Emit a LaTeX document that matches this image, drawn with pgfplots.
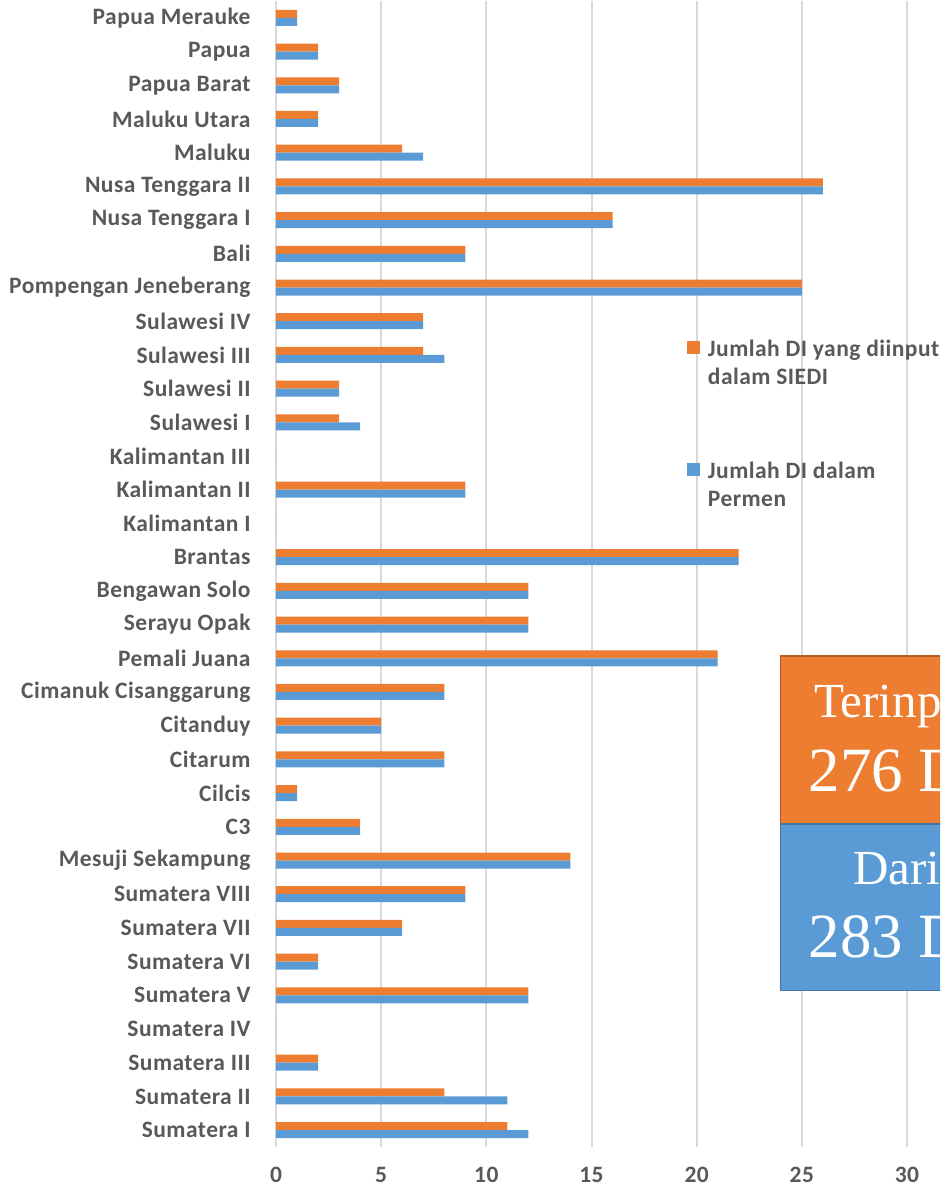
\documentclass[border=0pt]{standalone}
\usepackage{fontspec}
\setmainfont{Carlito}
\newfontfamily\lab[LetterSpace=2]{Carlito}
\newfontfamily\tnr{Liberation Serif}
\usepackage{pgfplots}
\pgfplotsset{compat=1.18}
\definecolor{orng}{HTML}{ED7D31}
\definecolor{blu}{HTML}{5B9BD5}
\definecolor{gridc}{HTML}{D9D9D9}
\definecolor{txt}{HTML}{595959}
\begin{document}
\begin{tikzpicture}[x=1pt,y=1pt]
\clip (0,0) rectangle (940,1189);
\begin{axis}[at={(276pt,42pt)}, anchor=south west, scale only axis,
  width=631pt, height=1146pt,
  xbar, bar width=8pt, xmin=0, xmax=30, ymin=-0.5, ymax=33.5,
  axis line style={draw=none}, tick style={draw=none},
  xtick={0,5,...,30}, xmajorgrids, grid style={gridc, line width=2pt},
  ytick={0,...,33},
  yticklabels={Sumatera I,Sumatera II,Sumatera III,Sumatera IV,Sumatera V,Sumatera VI,Sumatera VII,Sumatera VIII,Mesuji Sekampung,C3,Cilcis,Citarum,Citanduy,Cimanuk Cisanggarung,Pemali Juana,Serayu Opak,Bengawan Solo,Brantas,Kalimantan  I,Kalimantan  II,Kalimantan  III,Sulawesi I,Sulawesi II,Sulawesi III,Sulawesi IV,Pompengan Jeneberang,Bali,Nusa Tenggara I,Nusa Tenggara II,Maluku,Maluku  Utara,Papua Barat,Papua,Papua Merauke},
  ticklabel style={font=\lab\fontsize{23.5}{28}\selectfont\bfseries, text=txt, inner sep=0pt},
  /pgf/number format/assume math mode=true,
  yticklabel style={xshift=-21pt},
  xticklabel style={yshift=-20pt},
  legend style={at={(0.651,0.706)}, anchor=north west, draw=none, fill=none, inner sep=0pt,
    font=\lab\fontsize{23.5}{28}\selectfont\bfseries, text=txt, row sep=72pt,
    cells={anchor=west, align=left}},
  legend image code/.code={\fill[#1] (0pt,9pt) rectangle (13pt,22pt); \path (19pt,9pt);},
]
\addplot[fill=orng, draw=none, bar shift=4pt] coordinates {
(11,0) (8,1) (2,2) (0,3) (12,4) (2,5) (6,6) (9,7) (14,8) (4,9) (1,10) (8,11) (5,12) (8,13) (21,14) (12,15) (12,16) (22,17) (0,18) (9,19) (0,20) (3,21) (3,22) (7,23) (7,24) (25,25) (9,26) (16,27) (26,28) (6,29) (2,30) (3,31) (2,32) (1,33)};
\addlegendentry{Jumlah  DI yang diinput\\dalam SIEDI}
\addplot[fill=blu, draw=none, bar shift=-4pt] coordinates {
(12,0) (11,1) (2,2) (0,3) (12,4) (2,5) (6,6) (9,7) (14,8) (4,9) (1,10) (8,11) (5,12) (8,13) (21,14) (12,15) (12,16) (22,17) (0,18) (9,19) (0,20) (4,21) (3,22) (8,23) (7,24) (25,25) (9,26) (16,27) (26,28) (7,29) (2,30) (3,31) (2,32) (1,33)};
\addlegendentry{Jumlah  DI dalam\\Permen}
\end{axis}
% overlay text boxes
\filldraw[fill=orng, draw=orng!75!black, line width=1.5pt] (780.7,365) rectangle (1014,533);
\filldraw[fill=blu, draw=blu!75!black, line width=1.5pt] (780.7,198.3) rectangle (1014,365);
\node[anchor=base, text=white, inner sep=0pt, font=\tnr\fontsize{49}{50}\selectfont] at (897,471) {Terinput};
\node[anchor=base, text=white, inner sep=0pt, font=\tnr\fontsize{63}{64}\selectfont] at (897,397) {276 DI};
\node[anchor=base, text=white, inner sep=0pt, font=\tnr\fontsize{49}{50}\selectfont] at (897,304) {Dari};
\node[anchor=base, text=white, inner sep=0pt, font=\tnr\fontsize{63}{64}\selectfont] at (897,231) {283 DI};
\end{tikzpicture}
\end{document}
